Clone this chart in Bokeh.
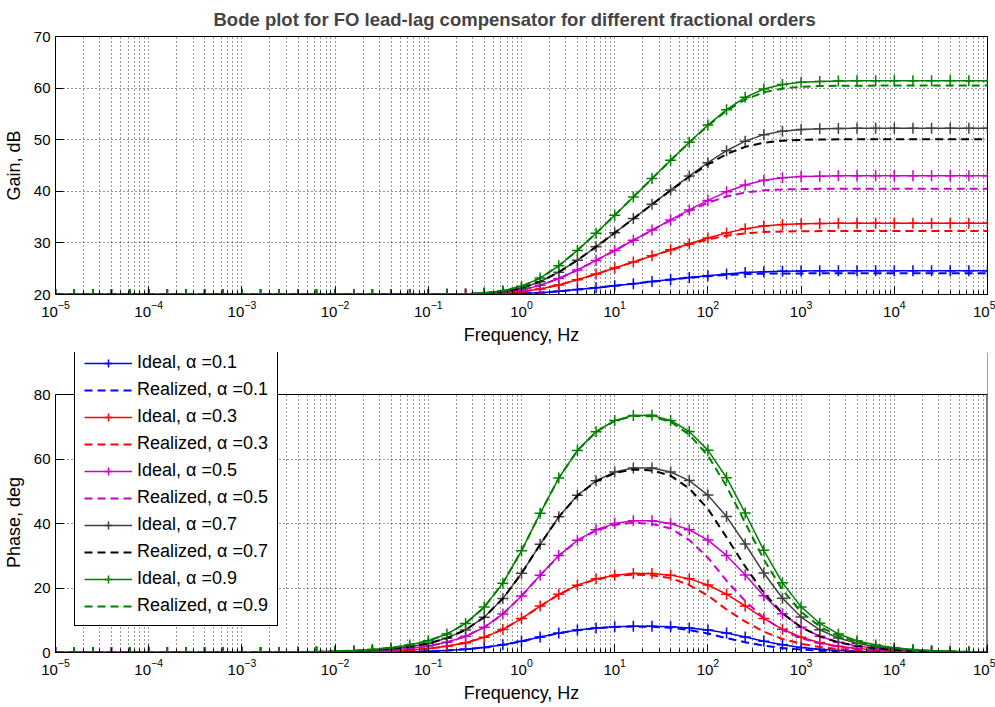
from bokeh.plotting import figure
from bokeh.layouts import column
from bokeh.models import Range1d, FixedTicker, Legend, LegendItem, BoxAnnotation, Span
from bokeh.embed import file_html
from bokeh.resources import INLINE

FONT = "Liberation Sans"

# ---------------- data ----------------
freq = [
    1.0e-5, 1.585e-5, 2.512e-5, 3.981e-5, 6.310e-5,
    1.0e-4, 1.585e-4, 2.512e-4, 3.981e-4, 6.310e-4,
    1.0e-3, 1.585e-3, 2.512e-3, 3.981e-3, 6.310e-3,
    1.0e-2, 1.585e-2, 2.512e-2, 3.981e-2, 6.310e-2,
    1.0e-1, 1.585e-1, 2.512e-1, 3.981e-1, 6.310e-1,
    1.0e0, 1.585e0, 2.512e0, 3.981e0, 6.310e0,
    1.0e1, 1.585e1, 2.512e1, 3.981e1, 6.310e1,
    1.0e2, 1.585e2, 2.512e2, 3.981e2, 6.310e2,
    1.0e3, 1.585e3, 2.512e3, 3.981e3, 6.310e3,
    1.0e4, 1.585e4, 2.512e4, 3.981e4, 6.310e4,
    1.0e5,
]

alphas = ["0.1", "0.3", "0.5", "0.7", "0.9"]

LOW20 = [20.00, 20.00, 20.00, 20.00, 20.00, 20.00, 20.00, 20.00, 20.00, 20.00,
         20.00, 20.00, 20.00, 20.00, 20.00, 20.00, 20.00, 20.00, 20.00, 20.00]

gain_ideal_01 = LOW20 + [20.00, 20.01, 20.01, 20.03, 20.08, 20.18, 20.35, 20.62, 20.95, 21.32,
                         21.71, 22.10, 22.50, 22.89, 23.28, 23.65, 23.98, 24.25, 24.43, 24.52,
                         24.57, 24.59, 24.60, 24.60, 24.60, 24.60, 24.60, 24.60, 24.60, 24.60, 24.60]
gain_ideal_03 = LOW20 + [20.01, 20.02, 20.04, 20.10, 20.24, 20.53, 21.06, 21.86, 22.85, 23.96,
                         25.12, 26.30, 27.49, 28.67, 29.83, 30.94, 31.94, 32.74, 33.28, 33.57,
                         33.71, 33.76, 33.79, 33.80, 33.81, 33.81, 33.81, 33.81, 33.81, 33.81, 33.81]
gain_ideal_05 = LOW20 + [20.01, 20.03, 20.07, 20.17, 20.39, 20.88, 21.77, 23.09, 24.75, 26.60,
                         28.54, 30.51, 32.49, 34.46, 36.39, 38.24, 39.90, 41.23, 42.13, 42.62,
                         42.85, 42.94, 42.99, 43.01, 43.01, 43.01, 43.01, 43.01, 43.01, 43.01, 43.01]
gain_ideal_07 = LOW20 + [20.02, 20.04, 20.09, 20.23, 20.55, 21.23, 22.47, 24.33, 26.65, 29.24,
                         31.95, 34.71, 37.48, 40.24, 42.95, 45.54, 47.86, 49.72, 50.98, 51.66,
                         51.98, 52.12, 52.18, 52.21, 52.21, 52.21, 52.21, 52.21, 52.21, 52.21, 52.21]
gain_ideal_09 = LOW20 + [20.02, 20.05, 20.12, 20.30, 20.71, 21.58, 23.18, 25.57, 28.55, 31.88,
                         35.36, 38.91, 42.47, 46.02, 49.50, 52.83, 55.82, 58.21, 59.83, 60.71,
                         61.12, 61.29, 61.37, 61.41, 61.42, 61.42, 61.42, 61.42, 61.42, 61.42, 61.42]

gain_real_01 = LOW20 + [20.00, 20.01, 20.01, 20.03, 20.08, 20.18, 20.35, 20.62, 20.95, 21.32,
                        21.71, 22.10, 22.49, 22.87, 23.24, 23.55, 23.80, 23.95, 24.04, 24.07,
                        24.09, 24.10, 24.10, 24.10, 24.10, 24.10, 24.10, 24.10, 24.10, 24.10, 24.10]
gain_real_03 = LOW20 + [20.01, 20.02, 20.04, 20.10, 20.24, 20.53, 21.06, 21.86, 22.85, 23.96,
                        25.12, 26.29, 27.47, 28.62, 29.71, 30.66, 31.39, 31.86, 32.11, 32.22,
                        32.26, 32.29, 32.29, 32.29, 32.30, 32.30, 32.30, 32.30, 32.30, 32.30, 32.30]
gain_real_05 = LOW20 + [20.01, 20.03, 20.07, 20.17, 20.39, 20.88, 21.77, 23.09, 24.75, 26.60,
                        28.53, 30.49, 32.45, 34.37, 36.18, 37.77, 38.99, 39.77, 40.18, 40.36,
                        40.44, 40.48, 40.49, 40.49, 40.50, 40.50, 40.50, 40.50, 40.50, 40.50, 40.50]
gain_real_07 = LOW20 + [20.02, 20.04, 20.09, 20.23, 20.55, 21.23, 22.47, 24.33, 26.65, 29.24,
                        31.95, 34.69, 37.45, 40.18, 42.81, 45.21, 47.21, 48.61, 49.41, 49.81,
                        49.97, 50.04, 50.07, 50.09, 50.09, 50.09, 50.09, 50.09, 50.09, 50.09, 50.09]
gain_real_09 = LOW20 + [20.02, 20.05, 20.12, 20.30, 20.71, 21.58, 23.18, 25.57, 28.55, 31.88,
                        35.36, 38.90, 42.46, 46.00, 49.45, 52.72, 55.59, 57.78, 59.19, 59.92,
                        60.25, 60.39, 60.46, 60.47, 60.48, 60.49, 60.49, 60.49, 60.49, 60.49, 60.49]

LOW0 = [0.00, 0.00, 0.00, 0.00, 0.00, 0.00, 0.00, 0.00, 0.00, 0.00, 0.00, 0.00, 0.00]

phase_ideal_01 = LOW0 + [0.02, 0.03, 0.04, 0.06, 0.10, 0.16, 0.26, 0.40, 0.64, 1.00,
                         1.56, 2.39, 3.51, 4.79, 6.01, 6.96, 7.61, 7.99, 8.17, 8.17,
                         8.00, 7.61, 6.97, 6.02, 4.81, 3.52, 2.40, 1.57, 1.01, 0.64,
                         0.40, 0.26, 0.16, 0.10, 0.06, 0.04, 0.03, 0.02]
phase_ideal_03 = LOW0 + [0.05, 0.08, 0.12, 0.19, 0.31, 0.48, 0.77, 1.21, 1.91, 3.01,
                         4.69, 7.17, 10.52, 14.38, 18.03, 20.89, 22.83, 23.98, 24.51, 24.51,
                         23.99, 22.84, 20.92, 18.07, 14.42, 10.56, 7.20, 4.71, 3.02, 1.92,
                         1.21, 0.77, 0.48, 0.30, 0.19, 0.12, 0.08, 0.05]
phase_ideal_05 = LOW0 + [0.08, 0.13, 0.20, 0.32, 0.51, 0.81, 1.28, 2.01, 3.18, 5.01,
                         7.82, 11.95, 17.53, 23.97, 30.06, 34.82, 38.05, 39.97, 40.85, 40.85,
                         39.98, 38.07, 34.86, 30.11, 24.04, 17.60, 12.01, 7.86, 5.04, 3.20,
                         2.02, 1.28, 0.81, 0.51, 0.32, 0.20, 0.13, 0.08]
phase_ideal_07 = LOW0 + [0.11, 0.18, 0.28, 0.45, 0.71, 1.13, 1.79, 2.81, 4.45, 7.01,
                         10.94, 16.73, 24.54, 33.55, 42.08, 48.74, 53.26, 55.95, 57.18, 57.19,
                         55.97, 53.30, 48.80, 42.15, 33.65, 24.63, 16.81, 11.00, 7.05, 4.47,
                         2.83, 1.79, 1.13, 0.71, 0.45, 0.28, 0.18, 0.11]
phase_ideal_09 = LOW0 + [0.14, 0.23, 0.36, 0.58, 0.92, 1.45, 2.30, 3.62, 5.72, 9.02,
                         14.07, 21.51, 31.55, 43.14, 54.10, 62.67, 68.48, 71.94, 73.52, 73.53,
                         71.96, 68.53, 62.75, 54.20, 43.26, 31.67, 21.61, 14.14, 9.06, 5.75,
                         3.64, 2.30, 1.45, 0.91, 0.58, 0.36, 0.23, 0.14]

phase_real_01 = LOW0 + [0.02, 0.03, 0.04, 0.06, 0.10, 0.16, 0.26, 0.40, 0.64, 1.00,
                        1.56, 2.39, 3.50, 4.78, 5.99, 6.93, 7.56, 7.91, 8.04, 7.97,
                        7.69, 6.98, 5.89, 4.45, 3.19, 2.15, 1.40, 0.89, 0.57, 0.36,
                        0.23, 0.14, 0.09, 0.06, 0.04, 0.02, 0.01, 0.01]
phase_real_03 = LOW0 + [0.05, 0.08, 0.12, 0.19, 0.31, 0.48, 0.77, 1.20, 1.91, 3.00,
                        4.68, 7.16, 10.49, 14.34, 17.97, 20.80, 22.68, 23.74, 24.13, 23.92,
                        23.08, 20.93, 17.66, 13.35, 9.58, 6.45, 4.19, 2.68, 1.70, 1.07,
                        0.68, 0.43, 0.27, 0.17, 0.11, 0.07, 0.04, 0.03]
phase_real_05 = LOW0 + [0.08, 0.13, 0.20, 0.32, 0.51, 0.81, 1.28, 2.01, 3.18, 5.00,
                        7.80, 11.93, 17.49, 23.91, 29.96, 34.66, 37.80, 39.57, 40.22, 39.87,
                        38.46, 34.88, 29.43, 22.25, 15.97, 10.75, 6.99, 4.46, 2.83, 1.79,
                        1.13, 0.72, 0.45, 0.29, 0.18, 0.12, 0.07, 0.05]
phase_real_07 = LOW0 + [0.11, 0.18, 0.28, 0.45, 0.71, 1.13, 1.79, 2.81, 4.45, 7.01,
                        10.93, 16.72, 24.51, 33.51, 42.01, 48.63, 53.08, 55.66, 56.72, 56.46,
                        54.83, 50.86, 44.55, 35.72, 26.70, 18.49, 12.19, 7.84, 4.99, 3.16,
                        2.00, 1.26, 0.79, 0.50, 0.32, 0.20, 0.13, 0.08]
phase_real_09 = LOW0 + [0.14, 0.23, 0.36, 0.58, 0.92, 1.45, 2.30, 3.62, 5.72, 9.01,
                        14.06, 21.50, 31.55, 43.12, 54.07, 62.62, 68.41, 71.82, 73.34, 73.25,
                        71.51, 67.57, 61.04, 51.52, 40.21, 28.85, 19.41, 12.62, 8.06, 5.11,
                        3.23, 2.04, 1.29, 0.82, 0.51, 0.32, 0.21, 0.13]

gain_ideal = [gain_ideal_01, gain_ideal_03, gain_ideal_05, gain_ideal_07, gain_ideal_09]
gain_real = [gain_real_01, gain_real_03, gain_real_05, gain_real_07, gain_real_09]
phase_ideal = [phase_ideal_01, phase_ideal_03, phase_ideal_05, phase_ideal_07, phase_ideal_09]
phase_real = [phase_real_01, phase_real_03, phase_real_05, phase_real_07, phase_real_09]

ideal_colors = ["#0000FF", "#FF0000", "#CC00CC", "#404040", "#008000"]
real_colors = ["#0000FF", "#FF0000", "#CC00CC", "#000000", "#008000"]

decades = [1e-5, 1e-4, 1e-3, 1e-2, 1e-1, 1e0, 1e1, 1e2, 1e3, 1e4, 1e5]
minor = [m * d for d in decades[:-1] for m in range(2, 10)]
gain_ticks = [20, 30, 40, 50, 60, 70]
phase_ticks = [0, 20, 40, 60, 80]
PHASE_MAX = 80

# layout (pixels)
FRAME_W = 932
P1_TOP, P1_FRAME_H, P1_BOT = 35, 259, 56
P2_TOP, P2_FRAME_H, P2_BOT = 2, 300, 55
P2_AXIS_PX = 258          # pixels spanned by 0..80 deg
p2_ymax = PHASE_MAX * P2_FRAME_H / P2_AXIS_PX


def style(p, ylabel, yticks):
    p.xaxis.ticker = FixedTicker(ticks=decades, minor_ticks=minor)
    p.xgrid.ticker = FixedTicker(ticks=decades, minor_ticks=minor)
    p.yaxis.ticker = FixedTicker(ticks=yticks)
    p.ygrid.ticker = FixedTicker(ticks=yticks)
    for g in (p.xgrid, p.ygrid):
        g.grid_line_color = "black"
        g.grid_line_dash = "1 3"
        g.grid_line_alpha = 0.8
        g.grid_line_width = 1
    p.xgrid.minor_grid_line_color = "black"
    p.xgrid.minor_grid_line_dash = "1 3"
    p.xgrid.minor_grid_line_alpha = 0.8
    for ax in (p.xaxis, p.yaxis):
        ax.axis_line_color = "black"
        ax.major_tick_line_color = "black"
        ax.major_tick_in = 8
        ax.major_tick_out = 0
        ax.minor_tick_in = 4
        ax.minor_tick_out = 0
        ax.major_label_text_font = FONT
        ax.major_label_text_font_size = "15px"
        ax.major_label_text_color = "black"
        ax.axis_label_text_font = FONT
        ax.axis_label_text_font_size = "18px"
        ax.axis_label_text_font_style = "normal"
        ax.axis_label_text_color = "black"
    p.yaxis.minor_tick_line_color = None
    p.yaxis.major_label_standoff = 5
    p.yaxis.axis_label_standoff = 7
    p.xaxis.major_label_standoff = 6
    p.xaxis.axis_label_standoff = 5
    p.xaxis.axis_label = "Frequency, Hz"
    p.yaxis.axis_label = ylabel
    p.outline_line_color = "black"
    p.outline_line_alpha = 1.0
    p.outline_line_width = 1
    p.background_fill_color = "white"
    p.border_fill_color = "white"


p1 = figure(width=55 + FRAME_W + 8, height=P1_TOP + P1_FRAME_H + P1_BOT, x_axis_type="log",
            x_range=Range1d(1e-5, 1e5), y_range=Range1d(20, 70),
            output_backend="svg", toolbar_location=None,
            min_border_left=55, min_border_right=8, min_border_top=P1_TOP,
            min_border_bottom=P1_BOT,
            title="Bode plot for FO lead-lag compensator for different fractional orders")
p1.title.align = "left"
p1.title.offset = 158
p1.title.text_font = FONT
p1.title.text_font_size = "18.5px"
p1.title.text_font_style = "bold"
p1.title.standoff = 13
style(p1, "Gain, dB", gain_ticks)

p2 = figure(width=55 + FRAME_W + 8, height=P2_TOP + P2_FRAME_H + P2_BOT, x_axis_type="log",
            x_range=Range1d(1e-5, 1e5), y_range=Range1d(0, p2_ymax),
            output_backend="svg", toolbar_location=None,
            min_border_left=55, min_border_right=8, min_border_top=P2_TOP,
            min_border_bottom=P2_BOT)
style(p2, "Phase, deg" + "\u00a0" * 8, phase_ticks)
p2.yaxis.bounds = (0, PHASE_MAX)
p2.outline_line_color = None

items = []
for i, a in enumerate(alphas):
    for p, yi, yr in ((p1, gain_ideal[i], gain_real[i]), (p2, phase_ideal[i], phase_real[i])):
        li = p.line(freq, yi, line_color=ideal_colors[i], line_width=1.5)
        si = p.scatter(freq, yi, marker="cross", size=11, line_color=ideal_colors[i], line_width=1.5)
        lr = p.line(freq, yr, line_color=real_colors[i], line_width=2, line_dash="8 5")
        if p is p2:
            items.append(LegendItem(label="Ideal, \u03b1 =" + a, renderers=[li, si]))
            items.append(LegendItem(label="Realized, \u03b1 =" + a, renderers=[lr]))

# box of the phase axes (frame is taller to hold the legend)
p2.add_layout(Span(location=1e5, dimension="height", line_color="black", line_width=2))
p2.add_layout(BoxAnnotation(bottom=PHASE_MAX, fill_color="white", fill_alpha=1.0, line_color=None))
p2.add_layout(Span(location=PHASE_MAX, dimension="width", line_color="black", line_width=1))

legend = Legend(items=items, location=(19, 26))
legend.label_text_font = FONT
legend.label_text_font_size = "18px"
legend.label_text_color = "black"
legend.glyph_width = 48
legend.glyph_height = 20
legend.label_height = 20
legend.label_standoff = 5
legend.spacing = 6
legend.padding = 9
legend.margin = 0
legend.border_line_color = "black"
legend.border_line_width = 1
legend.border_line_alpha = 1.0
legend.background_fill_color = "white"
legend.background_fill_alpha = 1.0
p2.add_layout(legend)

layout = column(p1, p2, spacing=0)
open("out.html", "w").write(file_html(layout, INLINE))
